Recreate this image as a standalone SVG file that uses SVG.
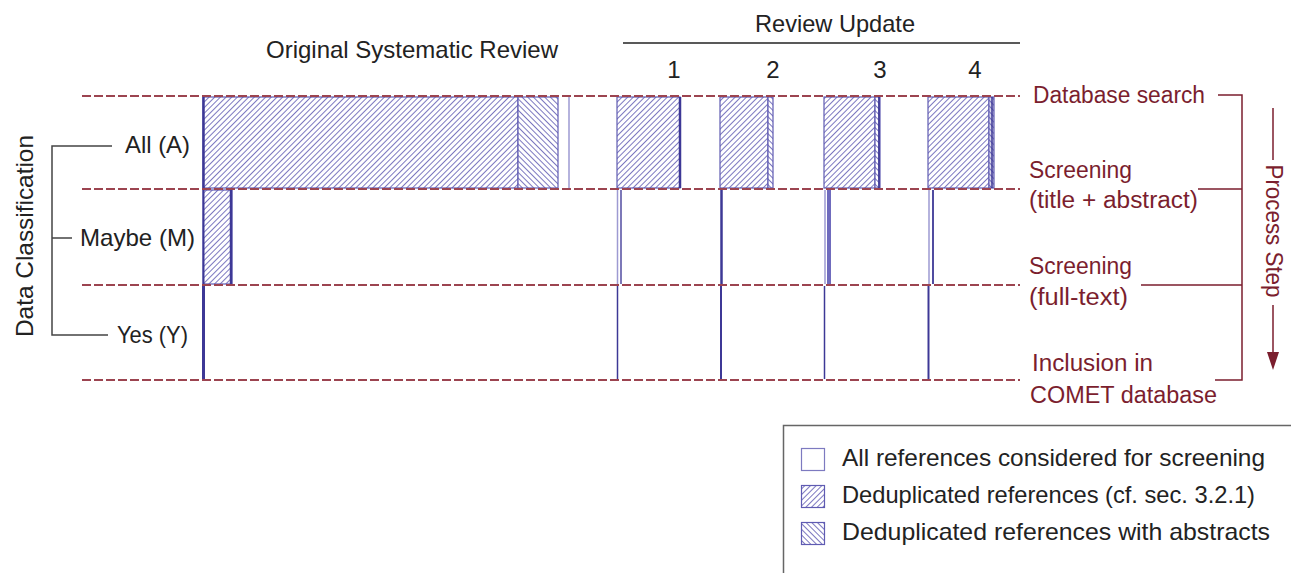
<svg xmlns="http://www.w3.org/2000/svg" width="1291" height="573" viewBox="0 0 1291 573">
<style>
text{font-family:"Liberation Sans",Arial,sans-serif;}
.blk{fill:#222;font-size:24px;}
.mar{fill:#7b1e2e;font-size:23px;}
.dash{stroke:#9c4450;stroke-width:1.8;stroke-dasharray:9 3;fill:none;}
.edge{stroke:#3d3896;fill:none;}
.light{stroke:#9d9ad2;fill:none;}
.hf{fill:url(#hatchF);stroke:#5f5bb2;stroke-width:1.2;}
.hb{fill:url(#hatchB);stroke:#5f5bb2;stroke-width:1.2;}
.br{stroke:#444;stroke-width:1.5;fill:none;}
.mbr{stroke:#7b1e2e;stroke-width:1.5;fill:none;}
</style>
<defs>
<pattern id="hatchF" patternUnits="userSpaceOnUse" width="4" height="4" patternTransform="rotate(45)">
<rect width="4" height="4" fill="#fff"/>
<line x1="0" y1="0" x2="0" y2="4" stroke="#5a56b0" stroke-width="1.6"/>
</pattern>
<pattern id="hatchB" patternUnits="userSpaceOnUse" width="4" height="4" patternTransform="rotate(-45)">
<rect width="4" height="4" fill="#fff"/>
<line x1="0" y1="0" x2="0" y2="4" stroke="#5a56b0" stroke-width="1.6"/>
</pattern>
</defs>
<rect width="1291" height="573" fill="#fff"/>

<g id="headers">
<text class="blk" x="266" y="58" textLength="292" lengthAdjust="spacingAndGlyphs">Original Systematic Review</text>
<text class="blk" x="755" y="32" textLength="160" lengthAdjust="spacingAndGlyphs">Review Update</text>
<line x1="623" y1="43" x2="1020" y2="43" stroke="#222" stroke-width="1.3"/>
<text class="blk" x="674" y="78" text-anchor="middle">1</text>
<text class="blk" x="773" y="78" text-anchor="middle">2</text>
<text class="blk" x="880" y="78" text-anchor="middle">3</text>
<text class="blk" x="975" y="78" text-anchor="middle">4</text>
</g>

<g id="bars-original">
<rect class="hf" x="203" y="97" width="315" height="91"/>
<rect class="hb" x="518" y="97" width="40" height="91"/>
<line class="edge" x1="203.5" y1="97" x2="203.5" y2="188" stroke-width="2.5"/>
<line class="light" x1="569" y1="97" x2="569" y2="188" stroke-width="1.5"/>
<rect class="hf" x="203" y="190" width="29" height="94"/>
<line class="edge" x1="203.5" y1="190" x2="203.5" y2="284" stroke-width="2"/>
<line class="edge" x1="231" y1="190" x2="231" y2="284" stroke-width="2.5"/>
<line class="edge" x1="203.5" y1="286" x2="203.5" y2="379" stroke-width="3"/>
</g>

<g id="bars-update1">
<rect class="hf" x="617" y="97" width="63" height="91"/>
<line class="edge" x1="680" y1="97" x2="680" y2="188" stroke-width="2.5"/>
<line class="light" x1="617.5" y1="190" x2="617.5" y2="284" stroke-width="1.5"/>
<line class="edge" x1="621" y1="190" x2="621" y2="284" stroke-width="1.8" stroke-opacity="0.75"/>
<line class="edge" x1="617.5" y1="286" x2="617.5" y2="379" stroke-width="1.5"/>
</g>

<g id="bars-update2">
<rect class="hf" x="720" y="97" width="48" height="91"/>
<rect class="hb" x="768" y="97" width="5" height="91"/>
<line class="edge" x1="721.5" y1="190" x2="721.5" y2="284" stroke-width="2.5"/>
<line class="edge" x1="721" y1="286" x2="721" y2="379" stroke-width="2"/>
</g>

<g id="bars-update3">
<rect class="hf" x="824" y="97" width="51" height="91"/>
<rect class="hb" x="875" y="97" width="5" height="91"/>
<line class="edge" x1="879" y1="97" x2="879" y2="188" stroke-width="1.8"/>
<line class="light" x1="825" y1="190" x2="825" y2="284" stroke-width="1.5"/>
<rect x="827" y="190" width="4" height="94" fill="#6f6bbd"/>
<line class="edge" x1="824.5" y1="286" x2="824.5" y2="379" stroke-width="1.5"/>
</g>

<g id="bars-update4">
<rect class="hf" x="928" y="97" width="61" height="91"/>
<rect class="hb" x="989" y="97" width="5" height="91"/>
<line class="edge" x1="992" y1="97" x2="992" y2="188" stroke-width="2.5" stroke-opacity="0.8"/>
<line class="light" x1="929" y1="190" x2="929" y2="284" stroke-width="1.5"/>
<line class="edge" x1="933" y1="190" x2="933" y2="284" stroke-width="1.8"/>
<line class="edge" x1="928.5" y1="286" x2="928.5" y2="379" stroke-width="2"/>
</g>

<g id="connectors">
<line class="dash" x1="82" y1="96" x2="1020" y2="96"/>
<line class="dash" x1="82" y1="189" x2="1020" y2="189"/>
<line class="dash" x1="82" y1="285" x2="1020" y2="285"/>
<line class="dash" x1="82" y1="380" x2="1020" y2="380"/>
<path class="br" d="M112 146 H52 V335 H108 M52 238 H72"/>
<path class="mbr" d="M1218 95 H1242 V380 H1215 M1198 189 H1242 M1141 285 H1242"/>
<line class="mbr" x1="1273" y1="108" x2="1273" y2="160"/>
<line class="mbr" x1="1273" y1="305" x2="1273" y2="356"/>
<polygon points="1267,352 1279,352 1273,370" fill="#7b1e2e"/>
</g>

<g id="class-labels">
<text class="blk" x="125" y="153" textLength="65" lengthAdjust="spacingAndGlyphs">All (A)</text>
<text class="blk" x="80" y="246" textLength="115" lengthAdjust="spacingAndGlyphs">Maybe (M)</text>
<text class="blk" x="117" y="343" textLength="71" lengthAdjust="spacingAndGlyphs">Yes (Y)</text>
<text class="blk" x="0" y="0" text-anchor="middle" transform="translate(33 236) rotate(-90)" textLength="202" lengthAdjust="spacingAndGlyphs">Data Classification</text>
</g>

<g id="step-labels">
<text class="mar" x="1033" y="103" textLength="172" lengthAdjust="spacingAndGlyphs">Database search</text>
<text class="mar" x="1029" y="178" textLength="103" lengthAdjust="spacingAndGlyphs">Screening</text>
<text class="mar" x="1029" y="208" textLength="169" lengthAdjust="spacingAndGlyphs">(title + abstract)</text>
<text class="mar" x="1029" y="274" textLength="103" lengthAdjust="spacingAndGlyphs">Screening</text>
<text class="mar" x="1029" y="305" textLength="99" lengthAdjust="spacingAndGlyphs">(full-text)</text>
<text class="mar" x="1032" y="371" textLength="121" lengthAdjust="spacingAndGlyphs">Inclusion in</text>
<text class="mar" x="1030" y="403" textLength="187" lengthAdjust="spacingAndGlyphs">COMET database</text>
<text class="mar" x="0" y="0" text-anchor="middle" transform="translate(1266 231) rotate(90)" textLength="133" lengthAdjust="spacingAndGlyphs">Process Step</text>
</g>

<g id="legend">
<rect x="783.5" y="425.5" width="520" height="160" fill="none" stroke="#666" stroke-width="1.5"/>
<rect x="801.5" y="448.5" width="23" height="22" fill="#fff" stroke="#7d7ac0" stroke-width="1.2"/>
<rect x="801.5" y="485.5" width="23" height="22" fill="url(#hatchF)" stroke="#5f5bb2" stroke-width="1.2"/>
<rect x="801.5" y="522.5" width="23" height="22" fill="url(#hatchB)" stroke="#5f5bb2" stroke-width="1.2"/>
<text class="blk" x="842" y="466" textLength="423" lengthAdjust="spacingAndGlyphs">All references considered for screening</text>
<text class="blk" x="842" y="503" textLength="413" lengthAdjust="spacingAndGlyphs">Deduplicated references (cf. sec. 3.2.1)</text>
<text class="blk" x="842" y="540" textLength="428" lengthAdjust="spacingAndGlyphs">Deduplicated references with abstracts</text>
</g>
</svg>
